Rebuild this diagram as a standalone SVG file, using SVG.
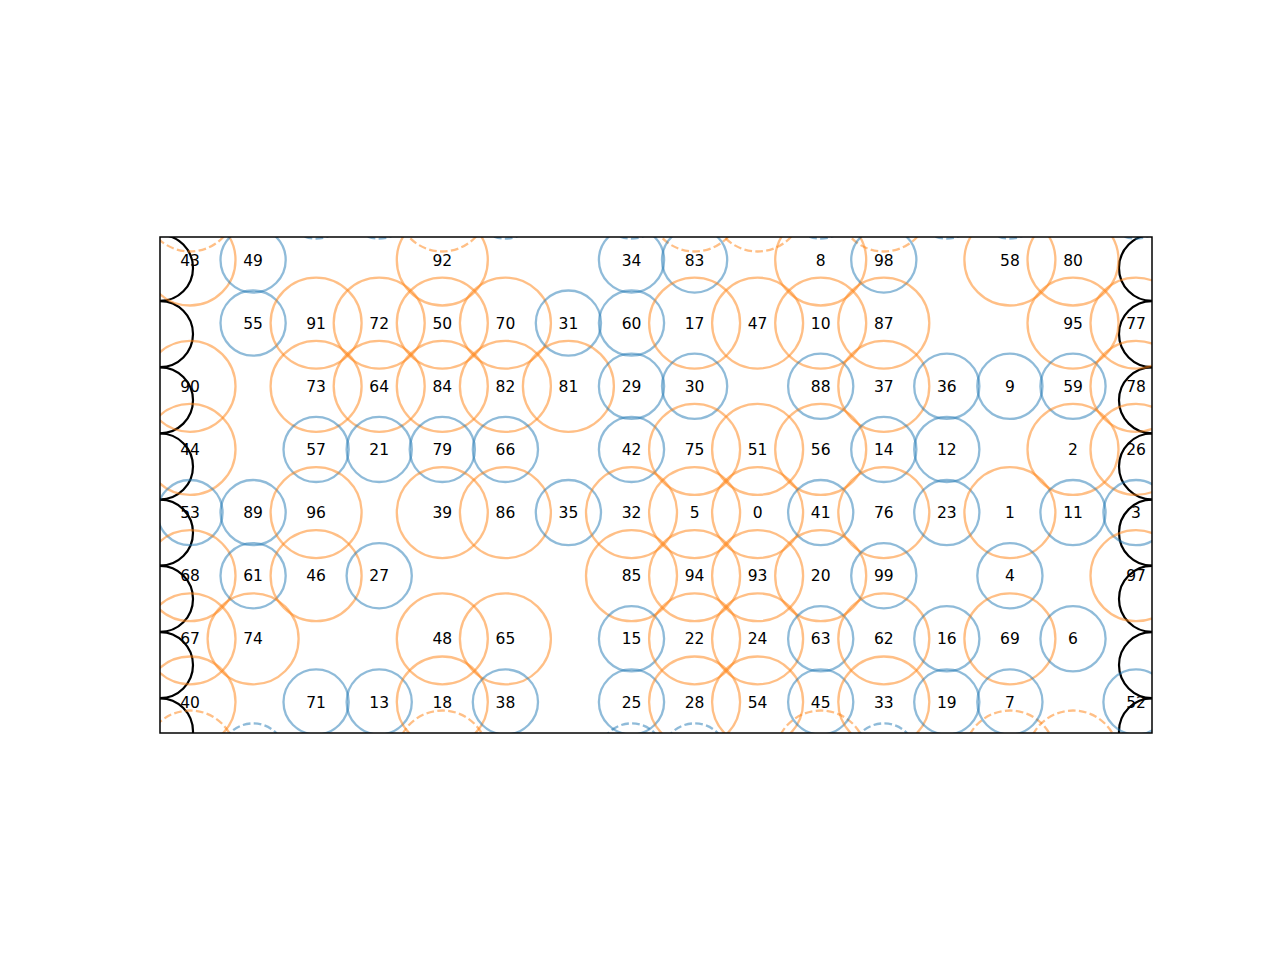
<svg xmlns="http://www.w3.org/2000/svg" width="1280" height="960" viewBox="0 0 1280 960">
<defs>
<clipPath id="ax"><rect x="160" y="237" width="992" height="496"/></clipPath>
<style>
.b{fill:none;stroke:#1f77b4;stroke-opacity:0.5;stroke-width:2.3}
.o{fill:none;stroke:#ff7f0e;stroke-opacity:0.5;stroke-width:2.3}
.d{stroke-dasharray:7.7 3.3}
.w{fill:none;stroke:#000;stroke-width:2.2}
text{font-family:"DejaVu Sans","Liberation Sans",sans-serif;font-size:15.5px;fill:#000;text-anchor:middle}
</style>
</defs>
<rect width="1280" height="960" fill="#fff"/>
<g id="axes-content" clip-path="url(#ax)">
<g id="walls">
<circle class="w" cx="160" cy="267.9" r="33"/><circle class="w" cx="160" cy="334.1" r="33"/><circle class="w" cx="160" cy="400.3" r="33"/><circle class="w" cx="160" cy="466.5" r="33"/><circle class="w" cx="160" cy="532.7" r="33"/><circle class="w" cx="160" cy="598.9" r="33"/><circle class="w" cx="160" cy="665.1" r="33"/><circle class="w" cx="160" cy="731.3" r="33"/>
<circle class="w" cx="1152" cy="267.9" r="33"/><circle class="w" cx="1152" cy="334.1" r="33"/><circle class="w" cx="1152" cy="400.3" r="33"/><circle class="w" cx="1152" cy="466.5" r="33"/><circle class="w" cx="1152" cy="532.7" r="33"/><circle class="w" cx="1152" cy="598.9" r="33"/><circle class="w" cx="1152" cy="665.1" r="33"/><circle class="w" cx="1152" cy="731.3" r="33"/>
</g>
<g id="periodic-images">
<circle class="o d" cx="190" cy="206" r="45.5"/><circle class="b d" cx="316.1" cy="206" r="32.6"/><circle class="b d" cx="379.2" cy="206" r="32.6"/><circle class="o d" cx="442.3" cy="206" r="45.5"/><circle class="b d" cx="505.4" cy="206" r="32.6"/><circle class="b d" cx="631.5" cy="206" r="32.6"/><circle class="o d" cx="694.6" cy="206" r="45.5"/><circle class="o d" cx="757.6" cy="206" r="45.5"/><circle class="b d" cx="820.7" cy="206" r="32.6"/><circle class="o d" cx="883.8" cy="206" r="45.5"/><circle class="b d" cx="946.8" cy="206" r="32.6"/><circle class="b d" cx="1009.9" cy="206" r="32.6"/><circle class="b d" cx="1136" cy="206" r="32.6"/>
<circle class="o d" cx="190" cy="756" r="45.5"/><circle class="b d" cx="253.1" cy="756" r="32.6"/><circle class="o d" cx="442.3" cy="756" r="45.5"/><circle class="b d" cx="631.5" cy="756" r="32.6"/><circle class="b d" cx="694.6" cy="756" r="32.6"/><circle class="o d" cx="820.7" cy="756" r="45.5"/><circle class="b d" cx="883.8" cy="756" r="32.6"/><circle class="o d" cx="1009.9" cy="756" r="45.5"/><circle class="o d" cx="1073" cy="756" r="45.5"/>
</g>
<g id="nodes">
<g id="n43" transform="translate(190,260)"><circle class="o" r="45.5"/><text y="5.6">43</text></g>
<g id="n49" transform="translate(253.1,260)"><circle class="b" r="32.6"/><text y="5.6">49</text></g>
<g id="n92" transform="translate(442.3,260)"><circle class="o" r="45.5"/><text y="5.6">92</text></g>
<g id="n34" transform="translate(631.5,260)"><circle class="b" r="32.6"/><text y="5.6">34</text></g>
<g id="n83" transform="translate(694.6,260)"><circle class="b" r="32.6"/><text y="5.6">83</text></g>
<g id="n8" transform="translate(820.7,260)"><circle class="o" r="45.5"/><text y="5.6">8</text></g>
<g id="n98" transform="translate(883.8,260)"><circle class="b" r="32.6"/><text y="5.6">98</text></g>
<g id="n58" transform="translate(1009.9,260)"><circle class="o" r="45.5"/><text y="5.6">58</text></g>
<g id="n80" transform="translate(1073,260)"><circle class="o" r="45.5"/><text y="5.6">80</text></g>

<g id="n55" transform="translate(253.1,323.1)"><circle class="b" r="32.6"/><text y="5.6">55</text></g>
<g id="n91" transform="translate(316.1,323.1)"><circle class="o" r="45.5"/><text y="5.6">91</text></g>
<g id="n72" transform="translate(379.2,323.1)"><circle class="o" r="45.5"/><text y="5.6">72</text></g>
<g id="n50" transform="translate(442.3,323.1)"><circle class="o" r="45.5"/><text y="5.6">50</text></g>
<g id="n70" transform="translate(505.4,323.1)"><circle class="o" r="45.5"/><text y="5.6">70</text></g>
<g id="n31" transform="translate(568.4,323.1)"><circle class="b" r="32.6"/><text y="5.6">31</text></g>
<g id="n60" transform="translate(631.5,323.1)"><circle class="b" r="32.6"/><text y="5.6">60</text></g>
<g id="n17" transform="translate(694.6,323.1)"><circle class="o" r="45.5"/><text y="5.6">17</text></g>
<g id="n47" transform="translate(757.6,323.1)"><circle class="o" r="45.5"/><text y="5.6">47</text></g>
<g id="n10" transform="translate(820.7,323.1)"><circle class="o" r="45.5"/><text y="5.6">10</text></g>
<g id="n87" transform="translate(883.8,323.1)"><circle class="o" r="45.5"/><text y="5.6">87</text></g>
<g id="n95" transform="translate(1073,323.1)"><circle class="o" r="45.5"/><text y="5.6">95</text></g>
<g id="n77" transform="translate(1136,323.1)"><circle class="o" r="45.5"/><text y="5.6">77</text></g>

<g id="n90" transform="translate(190,386.3)"><circle class="o" r="45.5"/><text y="5.6">90</text></g>
<g id="n73" transform="translate(316.1,386.3)"><circle class="o" r="45.5"/><text y="5.6">73</text></g>
<g id="n64" transform="translate(379.2,386.3)"><circle class="o" r="45.5"/><text y="5.6">64</text></g>
<g id="n84" transform="translate(442.3,386.3)"><circle class="o" r="45.5"/><text y="5.6">84</text></g>
<g id="n82" transform="translate(505.4,386.3)"><circle class="o" r="45.5"/><text y="5.6">82</text></g>
<g id="n81" transform="translate(568.4,386.3)"><circle class="o" r="45.5"/><text y="5.6">81</text></g>
<g id="n29" transform="translate(631.5,386.3)"><circle class="b" r="32.6"/><text y="5.6">29</text></g>
<g id="n30" transform="translate(694.6,386.3)"><circle class="b" r="32.6"/><text y="5.6">30</text></g>
<g id="n88" transform="translate(820.7,386.3)"><circle class="b" r="32.6"/><text y="5.6">88</text></g>
<g id="n37" transform="translate(883.8,386.3)"><circle class="o" r="45.5"/><text y="5.6">37</text></g>
<g id="n36" transform="translate(946.8,386.3)"><circle class="b" r="32.6"/><text y="5.6">36</text></g>
<g id="n9" transform="translate(1009.9,386.3)"><circle class="b" r="32.6"/><text y="5.6">9</text></g>
<g id="n59" transform="translate(1073,386.3)"><circle class="b" r="32.6"/><text y="5.6">59</text></g>
<g id="n78" transform="translate(1136,386.3)"><circle class="o" r="45.5"/><text y="5.6">78</text></g>

<g id="n44" transform="translate(190,449.4)"><circle class="o" r="45.5"/><text y="5.6">44</text></g>
<g id="n57" transform="translate(316.1,449.4)"><circle class="b" r="32.6"/><text y="5.6">57</text></g>
<g id="n21" transform="translate(379.2,449.4)"><circle class="b" r="32.6"/><text y="5.6">21</text></g>
<g id="n79" transform="translate(442.3,449.4)"><circle class="b" r="32.6"/><text y="5.6">79</text></g>
<g id="n66" transform="translate(505.4,449.4)"><circle class="b" r="32.6"/><text y="5.6">66</text></g>
<g id="n42" transform="translate(631.5,449.4)"><circle class="b" r="32.6"/><text y="5.6">42</text></g>
<g id="n75" transform="translate(694.6,449.4)"><circle class="o" r="45.5"/><text y="5.6">75</text></g>
<g id="n51" transform="translate(757.6,449.4)"><circle class="o" r="45.5"/><text y="5.6">51</text></g>
<g id="n56" transform="translate(820.7,449.4)"><circle class="o" r="45.5"/><text y="5.6">56</text></g>
<g id="n14" transform="translate(883.8,449.4)"><circle class="b" r="32.6"/><text y="5.6">14</text></g>
<g id="n12" transform="translate(946.8,449.4)"><circle class="b" r="32.6"/><text y="5.6">12</text></g>
<g id="n2" transform="translate(1073,449.4)"><circle class="o" r="45.5"/><text y="5.6">2</text></g>
<g id="n26" transform="translate(1136,449.4)"><circle class="o" r="45.5"/><text y="5.6">26</text></g>

<g id="n53" transform="translate(190,512.6)"><circle class="b" r="32.6"/><text y="5.6">53</text></g>
<g id="n89" transform="translate(253.1,512.6)"><circle class="b" r="32.6"/><text y="5.6">89</text></g>
<g id="n96" transform="translate(316.1,512.6)"><circle class="o" r="45.5"/><text y="5.6">96</text></g>
<g id="n39" transform="translate(442.3,512.6)"><circle class="o" r="45.5"/><text y="5.6">39</text></g>
<g id="n86" transform="translate(505.4,512.6)"><circle class="o" r="45.5"/><text y="5.6">86</text></g>
<g id="n35" transform="translate(568.4,512.6)"><circle class="b" r="32.6"/><text y="5.6">35</text></g>
<g id="n32" transform="translate(631.5,512.6)"><circle class="o" r="45.5"/><text y="5.6">32</text></g>
<g id="n5" transform="translate(694.6,512.6)"><circle class="o" r="45.5"/><text y="5.6">5</text></g>
<g id="n0" transform="translate(757.6,512.6)"><circle class="o" r="45.5"/><text y="5.6">0</text></g>
<g id="n41" transform="translate(820.7,512.6)"><circle class="b" r="32.6"/><text y="5.6">41</text></g>
<g id="n76" transform="translate(883.8,512.6)"><circle class="o" r="45.5"/><text y="5.6">76</text></g>
<g id="n23" transform="translate(946.8,512.6)"><circle class="b" r="32.6"/><text y="5.6">23</text></g>
<g id="n1" transform="translate(1009.9,512.6)"><circle class="o" r="45.5"/><text y="5.6">1</text></g>
<g id="n11" transform="translate(1073,512.6)"><circle class="b" r="32.6"/><text y="5.6">11</text></g>
<g id="n3" transform="translate(1136,512.6)"><circle class="b" r="32.6"/><text y="5.6">3</text></g>

<g id="n68" transform="translate(190,575.7)"><circle class="o" r="45.5"/><text y="5.6">68</text></g>
<g id="n61" transform="translate(253.1,575.7)"><circle class="b" r="32.6"/><text y="5.6">61</text></g>
<g id="n46" transform="translate(316.1,575.7)"><circle class="o" r="45.5"/><text y="5.6">46</text></g>
<g id="n27" transform="translate(379.2,575.7)"><circle class="b" r="32.6"/><text y="5.6">27</text></g>
<g id="n85" transform="translate(631.5,575.7)"><circle class="o" r="45.5"/><text y="5.6">85</text></g>
<g id="n94" transform="translate(694.6,575.7)"><circle class="o" r="45.5"/><text y="5.6">94</text></g>
<g id="n93" transform="translate(757.6,575.7)"><circle class="o" r="45.5"/><text y="5.6">93</text></g>
<g id="n20" transform="translate(820.7,575.7)"><circle class="o" r="45.5"/><text y="5.6">20</text></g>
<g id="n99" transform="translate(883.8,575.7)"><circle class="b" r="32.6"/><text y="5.6">99</text></g>
<g id="n4" transform="translate(1009.9,575.7)"><circle class="b" r="32.6"/><text y="5.6">4</text></g>
<g id="n97" transform="translate(1136,575.7)"><circle class="o" r="45.5"/><text y="5.6">97</text></g>

<g id="n67" transform="translate(190,638.8)"><circle class="o" r="45.5"/><text y="5.6">67</text></g>
<g id="n74" transform="translate(253.1,638.8)"><circle class="o" r="45.5"/><text y="5.6">74</text></g>
<g id="n48" transform="translate(442.3,638.8)"><circle class="o" r="45.5"/><text y="5.6">48</text></g>
<g id="n65" transform="translate(505.4,638.8)"><circle class="o" r="45.5"/><text y="5.6">65</text></g>
<g id="n15" transform="translate(631.5,638.8)"><circle class="b" r="32.6"/><text y="5.6">15</text></g>
<g id="n22" transform="translate(694.6,638.8)"><circle class="o" r="45.5"/><text y="5.6">22</text></g>
<g id="n24" transform="translate(757.6,638.8)"><circle class="o" r="45.5"/><text y="5.6">24</text></g>
<g id="n63" transform="translate(820.7,638.8)"><circle class="b" r="32.6"/><text y="5.6">63</text></g>
<g id="n62" transform="translate(883.8,638.8)"><circle class="o" r="45.5"/><text y="5.6">62</text></g>
<g id="n16" transform="translate(946.8,638.8)"><circle class="b" r="32.6"/><text y="5.6">16</text></g>
<g id="n69" transform="translate(1009.9,638.8)"><circle class="o" r="45.5"/><text y="5.6">69</text></g>
<g id="n6" transform="translate(1073,638.8)"><circle class="b" r="32.6"/><text y="5.6">6</text></g>

<g id="n40" transform="translate(190,702)"><circle class="o" r="45.5"/><text y="5.6">40</text></g>
<g id="n71" transform="translate(316.1,702)"><circle class="b" r="32.6"/><text y="5.6">71</text></g>
<g id="n13" transform="translate(379.2,702)"><circle class="b" r="32.6"/><text y="5.6">13</text></g>
<g id="n18" transform="translate(442.3,702)"><circle class="o" r="45.5"/><text y="5.6">18</text></g>
<g id="n38" transform="translate(505.4,702)"><circle class="b" r="32.6"/><text y="5.6">38</text></g>
<g id="n25" transform="translate(631.5,702)"><circle class="b" r="32.6"/><text y="5.6">25</text></g>
<g id="n28" transform="translate(694.6,702)"><circle class="o" r="45.5"/><text y="5.6">28</text></g>
<g id="n54" transform="translate(757.6,702)"><circle class="o" r="45.5"/><text y="5.6">54</text></g>
<g id="n45" transform="translate(820.7,702)"><circle class="b" r="32.6"/><text y="5.6">45</text></g>
<g id="n33" transform="translate(883.8,702)"><circle class="o" r="45.5"/><text y="5.6">33</text></g>
<g id="n19" transform="translate(946.8,702)"><circle class="b" r="32.6"/><text y="5.6">19</text></g>
<g id="n7" transform="translate(1009.9,702)"><circle class="b" r="32.6"/><text y="5.6">7</text></g>
<g id="n52" transform="translate(1136,702)"><circle class="b" r="32.6"/><text y="5.6">52</text></g>
</g>
</g>
<g id="connectors"/>
<rect id="frame" x="160" y="237" width="992" height="496" fill="none" stroke="#000" stroke-width="1.5"/>
</svg>
